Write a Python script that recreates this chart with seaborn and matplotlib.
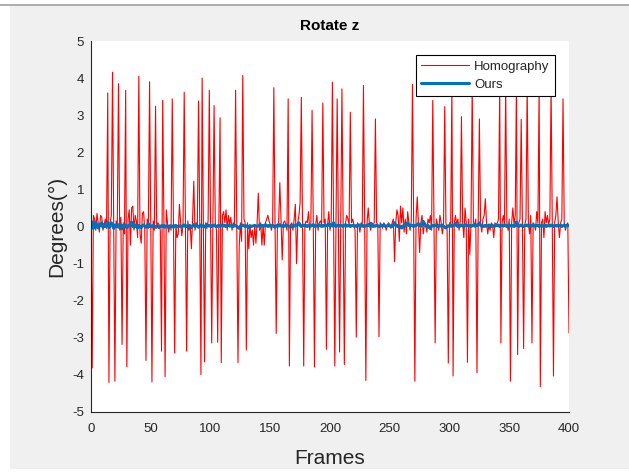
import numpy as np
import pandas as pd
import matplotlib
matplotlib.use("Agg")
import matplotlib.pyplot as plt
import seaborn as sns
from matplotlib.patches import Rectangle
from matplotlib.lines import Line2D

# rotation about z, one value per frame (0..400)
homography = [
    0.1, -3.81, 0.3, 0.2, -0.1, 0.35, 0.1, -0.15, 0.3, 0.25, -0.1, 0.05, 0.2, -0.05, 3.6, -4.2, 0.1, 0.3, 4.16, -0.2,
    -4.17, 0.15, 0.05, 3.85, -0.1, 0.25, -3.18, 0.1, -0.2, 3.67, -3.78, 0.2, 0.45, -0.5, 0.5, 0.55, -0.1, 0.3, 0.15, -0.3,
    4.05, -0.2, -0.45, 0.35, 0.4, -0.1, -3.61, 0.2, -0.05, 3.9, 0.1, -4.19, 0.15, -0.1, 3.24, -0.05, 0.1, 0.05, -0.1, -3.36,
    3.4, 0.2, -4.05, 0.45, 0.1, -0.15, 0.05, -0.1, 3.44, 0.1, -3.41, 0.05, -0.3, -0.2, 0.6, 0.1, -0.25, 0.05, 3.62, 0.1,
    -3.36, 0.15, -0.1, 0.05, -0.6, 0.2, 1.22, -0.1, 0.1, 0.05, 3.38, 0.1, -3.99, 4.0, 0.05, -3.65, 0.1, -0.05, 0.15, 3.67,
    0.1, -3.14, 0.05, 3.26, 0.1, -0.1, -3.12, 0.1, 2.93, -3.67, 0.3, 0.4, 0.1, 0.45, -0.1, 0.3, 0.05, 0.25, -0.1, 0.1,
    0.05, 3.67, 0.1, -3.67, -0.55, 0.1, -0.4, 4.07, 0.2, 0.1, -3.33, 0.1, -0.6, 0.05, -0.3, -0.1, -0.5, 0.05, -0.45, 0.1,
    0.9, -0.1, 0.1, -0.5, 0.05, -0.5, 0.1, 0.2, 0.3, 0.15, 0.05, -0.1, 0.1, 3.74, 0.1, -2.88, 0.05, 0.1, 1.18, 0.2,
    -0.9, 0.1, 0.15, 0.05, -0.1, 3.44, -3.76, 0.05, 0.1, -0.1, 0.2, 0.6, -1.0, 0.1, 0.3, 0.65, 3.48, 0.1, -3.76, 0.05,
    0.15, 0.1, 0.4, -0.1, 0.1, 3.13, 0.1, -3.79, 0.05, 0.3, -0.1, 0.1, 0.15, 0.05, 3.33, 0.1, 0.2, -3.31, 0.05, 0.4,
    -0.1, 0.1, 3.89, 0.1, -3.76, 0.05, 3.44, 0.1, -3.38, 0.1, 3.71, 0.15, -3.72, 0.1, 0.3, 0.2, 0.05, 3.08, 0.1, 0.2,
    0.05, -0.1, -2.98, 0.1, 0.05, -0.15, 0.1, 0.05, 3.8, 0.1, -4.15, 0.1, 0.5, 0.05, -0.1, 0.1, 0.05, 0.1, 2.9, 0.1,
    0.05, -2.97, 0.1, 0.05, -0.05, 0.1, 0.05, -0.1, 0.05, 0.1, 0.05, -0.05, 0.1, 0.2, -0.95, 0.1, 0.45, 0.3, -0.4, 0.55,
    0.1, 0.5, -0.15, 0.2, -0.2, 0.4, 0.1, -0.1, 0.15, 3.83, 0.1, -4.17, 0.2, 0.8, 0.1, -0.7, 0.1, 0.3, -0.2, 0.05,
    0.1, -0.15, 0.2, 0.1, 0.3, -0.1, 3.4, 0.1, -3.14, 0.2, 0.05, -0.1, 0.3, 0.1, -0.2, 0.05, 3.23, 0.1, -0.1, -3.68,
    0.1, 0.05, 3.8, -4.03, 0.1, 0.3, 0.05, 0.2, -0.1, 0.15, 2.96, 0.1, -0.3, 0.5, 0.1, -3.66, 0.2, -0.75, 0.1, 3.8,
    0.1, 0.05, 0.2, -3.94, 0.1, 2.9, 0.1, -0.15, 0.2, 0.3, 0.75, 0.1, -0.2, 0.05, -0.1, 0.1, 0.05, -0.3, 0.1, 0.05,
    0.1, 0.2, 3.8, -3.14, 0.1, 0.3, 0.05, 3.8, 0.1, -0.1, 0.2, -4.17, 0.1, 0.5, 0.05, 0.3, 3.8, -3.45, 0.1, 0.2,
    2.89, 0.1, -3.29, 0.05, 0.2, 3.8, 0.1, -0.2, 0.3, -3.14, 0.1, 0.05, -0.1, 0.4, 0.1, 3.8, -4.32, 0.1, 0.2, -0.3,
    0.4, 0.1, 0.3, 0.05, 0.2, 3.8, 0.1, -4.03, 0.1, 0.3, 0.8, 0.1, -0.3, 0.1, 0.2, 3.44, 0.1, -0.1, 0.05, 0.1,
    -2.87,
]

ours = [
    0.15, 0.1, -0.05, 0.08, 0.12, 0.0, -0.04, 0.06, 0.02, 0.1, -0.02, 0.05, 0.0, 0.08, 0.12, -0.03, 0.06, 0.1, 0.02, -0.05,
    0.04, 0.0, 0.07, -0.02, 0.03, 0.05, -0.06, 0.02, 0.0, 0.04, -0.03, 0.01, 0.03, 0.05, 0.12, 0.0, -0.02, 0.04, 0.02, -0.04,
    0.03, 0.0, -0.03, 0.02, 0.04, 0.01, -0.02, 0.03, 0.08, 0.0, 0.02, -0.01, 0.03, 0.01, -0.02, 0.02, 0.0, -0.03, 0.01, 0.02,
    0.0, 0.03, -0.02, 0.01, 0.02, -0.03, 0.0, 0.02, 0.01, -0.02, 0.02, 0.03, -0.01, 0.0, 0.02, 0.01, -0.02, 0.03, 0.04, 0.0,
    0.02, -0.01, 0.03, 0.01, -0.03, 0.02, 0.05, 0.0, 0.03, 0.02, -0.02, 0.01, 0.04, 0.02, 0.0, -0.01, 0.03, 0.06, 0.02, 0.01,
    0.03, 0.0, 0.02, 0.04, 0.01, -0.01, 0.02, 0.03, 0.0, 0.02, 0.05, 0.01, 0.03, 0.0, 0.02, 0.04, 0.01, 0.02, 0.03, 0.0,
    0.02, 0.03, 0.0, -0.02, -0.05, 0.01, 0.02, 0.04, 0.02, 0.0, 0.02, 0.01, -0.03, 0.02, 0.0, 0.01, 0.02, 0.03, 0.01, 0.0,
    0.02, 0.04, 0.01, 0.03, 0.0, 0.02, 0.05, 0.02, 0.0, 0.03, 0.01, 0.02, 0.04, 0.0, -0.02, 0.02, 0.03, 0.01, 0.05, 0.02,
    0.0, 0.03, 0.01, 0.02, 0.04, 0.02, 0.0, -0.02, 0.02, 0.03, 0.01, 0.04, 0.02, 0.06, 0.1, 0.03, 0.0, 0.02, 0.04, 0.01,
    0.03, 0.0, 0.02, 0.04, 0.01, 0.03, 0.05, 0.0, 0.02, 0.01, 0.03, 0.04, 0.02, 0.0, 0.03, 0.01, 0.05, 0.02, 0.03, 0.07,
    0.02, 0.04, 0.01, 0.1, 0.03, 0.0, 0.02, 0.04, 0.01, 0.03, 0.02, 0.0, 0.03, 0.05, 0.01, 0.02, 0.04, 0.0, 0.02, 0.03,
    0.01, 0.02, 0.0, 0.03, 0.02, 0.04, 0.01, 0.03, 0.0, 0.02, 0.01, 0.03, 0.05, 0.02, 0.09, 0.03, 0.0, 0.02, 0.01, 0.03,
    0.02, 0.0, 0.01, 0.03, 0.02, 0.04, 0.01, 0.0, 0.02, 0.03, 0.01, 0.02, 0.0, 0.03, 0.1, 0.04, 0.01, 0.02, -0.02, 0.0,
    -0.04, 0.01, 0.03, 0.02, 0.05, 0.1, 0.03, 0.01, 0.04, 0.02, 0.0, 0.03, 0.02, 0.05, 0.08, 0.02, 0.01, 0.05, 0.14, 0.04,
    0.02, 0.0, 0.03, -0.03, -0.05, 0.02, 0.03, 0.01, 0.04, 0.02, 0.0, 0.03, 0.01, 0.02, 0.04, 0.01, -0.02, -0.04, 0.0, 0.02,
    0.01, 0.03, 0.0, 0.02, 0.04, 0.08, 0.02, 0.0, 0.03, 0.01, 0.04, 0.02, 0.0, 0.03, 0.05, 0.02, 0.01, 0.03, 0.0, 0.02,
    0.04, 0.01, 0.03, 0.02, 0.06, 0.1, 0.03, 0.01, 0.02, 0.0, 0.03, 0.01, 0.02, 0.04, 0.01, 0.03, 0.0, 0.02, 0.01, 0.03,
    0.02, 0.04, 0.0, 0.02, 0.03, 0.01, 0.05, 0.02, 0.0, 0.03, 0.04, 0.02, 0.01, 0.03, 0.0, 0.02, 0.12, 0.03, 0.0, 0.02,
    0.04, 0.01, 0.0, 0.03, 0.02, 0.04, 0.01, 0.03, 0.0, 0.02, 0.05, 0.02, 0.01, 0.03, 0.04, 0.0, 0.02, 0.03, 0.01, 0.02,
    0.04, 0.0, 0.02, 0.03, 0.01, 0.04, 0.02, 0.0, 0.03, 0.02, 0.01, 0.04, 0.02, 0.03, 0.0, 0.02, 0.04, 0.01, 0.03, 0.02,
    0.03,
]

frames = np.arange(len(homography))
x_ticks = [0, 50, 100, 150, 200, 250, 300, 350, 400]
y_ticks = [-5, -4, -3, -2, -1, 0, 1, 2, 3, 4, 5]

df = pd.DataFrame({"frame": frames, "Homography": homography, "Ours": ours})

sns.set_style("white")
plt.rcParams["font.family"] = ["Liberation Sans", "DejaVu Sans"]
plt.rcParams["axes.unicode_minus"] = False

fig = plt.figure(figsize=(6.29, 4.75), dpi=100, facecolor="white")
# matlab-ish grey window with a thin white border round it
fig.patches.append(Rectangle((10 / 629, 6 / 475), 619 / 629, 464 / 475,
                             transform=fig.transFigure, facecolor="#f0f0f0",
                             edgecolor="none", zorder=-10))
fig.lines.append(Line2D([0, 1], [1 - 4.5 / 475] * 2, transform=fig.transFigure,
                        color="#a0a0a0", linewidth=1.2))

ax = fig.add_axes([91 / 629, 63 / 475, 478 / 629, 371 / 475])
ax.set_facecolor("white")

sns.lineplot(data=df, x="frame", y="Homography", ax=ax, color="#ff0000",
             linewidth=0.8, label="Homography")
sns.lineplot(data=df, x="frame", y="Ours", ax=ax, color="#0072bd",
             linewidth=2.2, label="Ours")

ax.set_xlim(0, 400)
ax.set_ylim(-5, 5)
ax.set_xticks(x_ticks)
ax.set_yticks(y_ticks)
ax.tick_params(direction="in", length=4, width=0.8, labelsize=9.5,
               colors="#262626")
ax.tick_params(axis="x", pad=8)
ax.tick_params(axis="y", pad=5)
for side in ["top", "right"]:
    ax.spines[side].set_visible(False)
for side in ["left", "bottom"]:
    ax.spines[side].set_color("#262626")
    ax.spines[side].set_linewidth(0.8)

ax.set_title("Rotate z", fontsize=11, fontweight="bold", color="black", pad=8)
ax.set_xlabel("Frames", fontsize=15, color="#262626", labelpad=10)
ax.set_ylabel("Degrees(°)", fontsize=15, color="#262626", labelpad=4)

leg = ax.legend(loc="upper right", bbox_to_anchor=(0.97, 0.962), fontsize=9.5,
                frameon=True, fancybox=False, edgecolor="black",
                framealpha=1, borderpad=0.4, labelspacing=0.45,
                handlelength=3.6, handletextpad=0.4, borderaxespad=0)
leg.get_frame().set_linewidth(0.8)

fig.savefig("out.png", dpi=100, facecolor=fig.get_facecolor())
